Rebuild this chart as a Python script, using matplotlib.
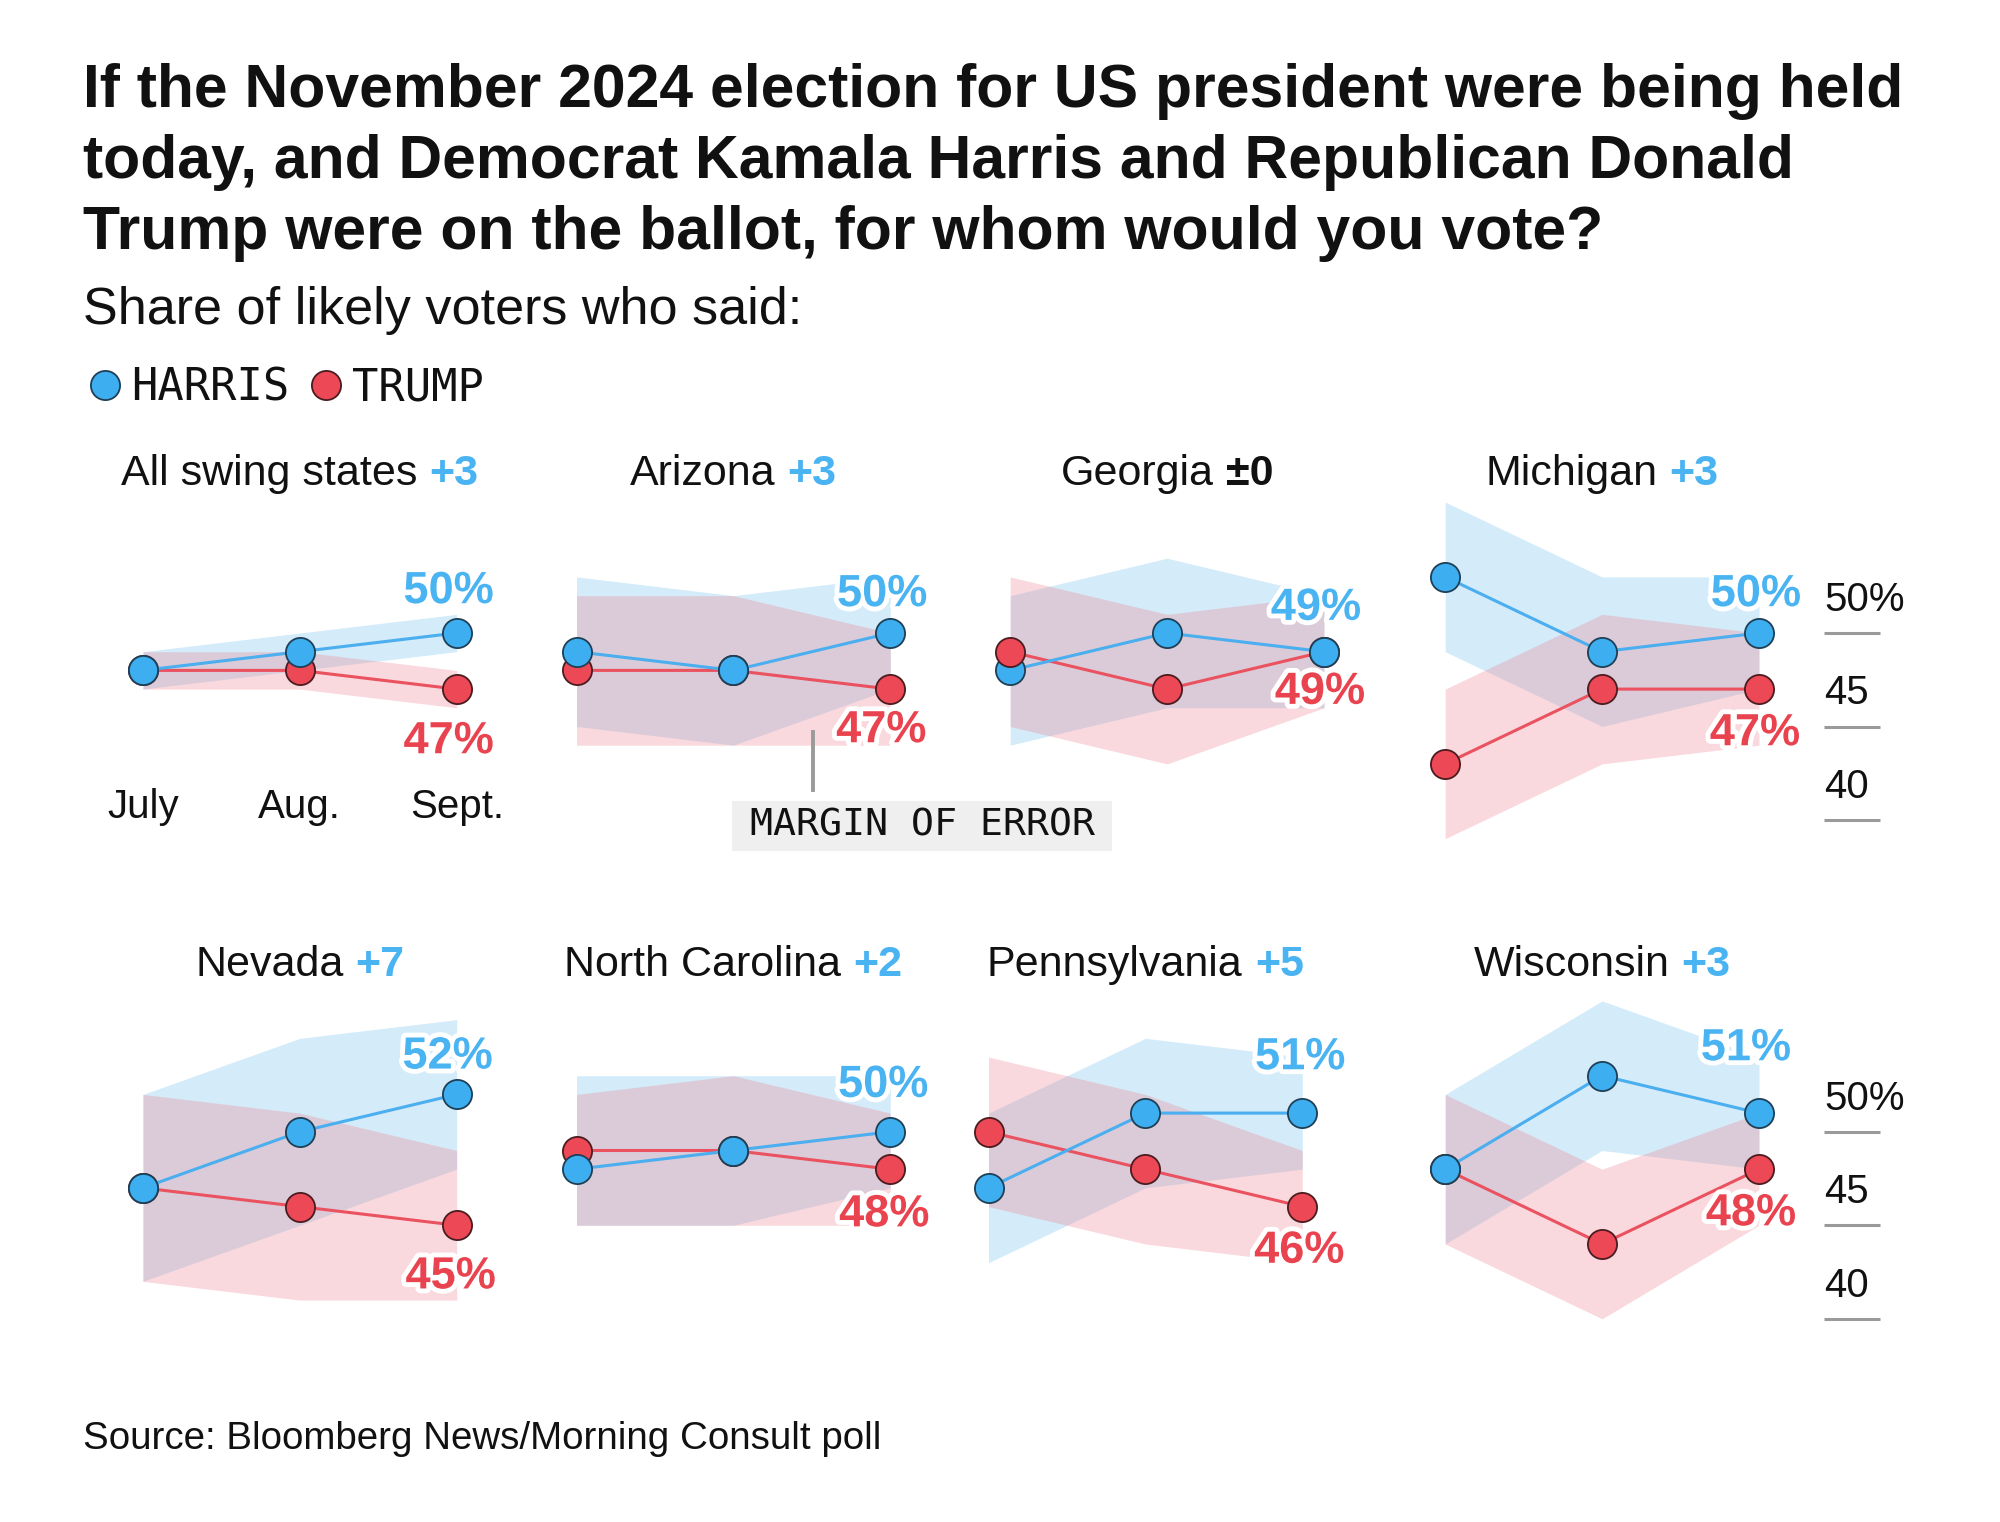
import matplotlib
matplotlib.use("Agg")
import matplotlib.pyplot as plt
from matplotlib import patheffects as pe
from matplotlib.patches import Rectangle
from matplotlib.lines import Line2D
from matplotlib.font_manager import FontProperties

# ---------------- data ----------------
months = ["July", "Aug.", "Sept."]
states = ["All swing states", "Arizona", "Georgia", "Michigan",
          "Nevada", "North Carolina", "Pennsylvania", "Wisconsin"]
leads = ["+3", "+3", "±0", "+3", "+7", "+2", "+5", "+3"]
harris = [[48, 49, 50], [49, 48, 50], [48, 50, 49], [53, 49, 50],
          [47, 50, 52], [48, 49, 50], [47, 51, 51], [48, 53, 51]]
trump = [[48, 48, 47], [48, 48, 47], [49, 47, 49], [43, 47, 47],
         [47, 46, 45], [49, 49, 48], [50, 48, 46], [48, 44, 48]]
# margin-of-error bands as drawn (low / high), per panel and month
harris_lo = [[47, 48, 49], [45, 44, 47], [44, 46, 46], [49, 45, 47],
             [42, 45, 48], [45, 45, 47], [43, 47, 48], [44, 49, 48]]
harris_hi = [[49, 50, 51], [53, 52, 53], [52, 54, 52], [57, 53, 53],
             [52, 55, 56], [53, 53, 53], [51, 55, 54], [52, 57, 54]]
trump_lo = [[47, 47, 46], [44, 44, 44], [45, 43, 46], [39, 43, 44],
            [42, 41, 41], [45, 45, 45], [46, 44, 43], [44, 40, 45]]
trump_hi = [[49, 49, 48], [52, 52, 50], [53, 51, 52], [47, 51, 50],
            [52, 51, 49], [52, 53, 51], [54, 52, 49], [52, 48, 51]]
yticks = [40, 45, 50]
ytick_labels = ["40", "45", "50%"]

# ---------------- style / layout ----------------
W, H, DPI = 2000, 1522, 100
BLUE = "#3DAEF0"
RED = "#EC4856"
BLUE_TXT = "#4AB3F1"
RED_TXT = "#E9434F"
BLUE_LINE = "#4AAEEF"
RED_LINE = "#EA5260"
BLUE_BAND = "#73C0EE"
RED_BAND = "#EE8491"
BLUE_EDGE = "#1E3F55"
RED_EDGE = "#4A1C20"
INK = "#111111"
SANS = "Liberation Sans"
MONO = "DejaVu Sans Mono"

MONTH_DX = 156.9          # px between months
PX_PER_PT = 18.7          # px per percentage point
ROW_Y50 = [633.0, 1131.8]  # pixel y of the 50% level in each row
PANEL_X0 = [142.9, 576.5, 1010.2, 1445.2, 142.9, 576.5, 988.5, 1445.2]
TITLE_Y = [469.4, 960.5]
Y_LO, Y_HI = 36, 60
# value-label offsets (px): (blue dx, blue dy, red dx, red dy), dy up-positive
LABEL_OFF = [(-8, 46, -8, -48), (-8, 43, -9, -37), (-8, 48, -4, -36),
             (-3, 43, -4, -40), (-9, 42, -6, -47), (-7, 51, -6, -41),
             (-2, 60, -3, -40), (-13, 69, -8, -40)]
# (panel, month) points where the Trump dot sits above the Harris dot
TRUMP_ON_TOP = [(2, 0)]

def fx(x):
    return x / W

def fy(y):
    return 1 - y / H

fig = plt.figure(figsize=(W / DPI, H / DPI), dpi=DPI)
fig.patch.set_facecolor("white")

# ---- title & subtitle ----
title_lines = ["If the November 2024 election for US president were being held",
               "today, and Democrat Kamala Harris and Republican Donald",
               "Trump were on the ballot, for whom would you vote?"]
for i, line in enumerate(title_lines):
    fig.text(fx(83), fy(107 + 71 * i), line, family=SANS, weight="bold",
             fontsize=43.7, color=INK, va="baseline", ha="left")
fig.text(fx(83), fy(324), "Share of likely voters who said:", family=SANS,
         fontsize=37.5, color=INK, va="baseline", ha="left")

# ---- legend ----
handles = [Line2D([], [], ls="", marker="o", ms=21, mfc=BLUE, mec=BLUE_EDGE, mew=1.3),
           Line2D([], [], ls="", marker="o", ms=21, mfc=RED, mec=RED_EDGE, mew=1.3)]
fig.legend(handles, ["HARRIS", "TRUMP"], loc="center left",
           bbox_to_anchor=(fx(87), fy(388)), ncol=2, frameon=False,
           prop=FontProperties(family=MONO, size=31.5), handlelength=0.8,
           handletextpad=0.2, columnspacing=0.45, borderpad=0,
           borderaxespad=0, labelcolor=INK)

renderer = fig.canvas.get_renderer()

def two_part_title(xc, yc, s1, s2, c2):
    fs = 31
    t1 = fig.text(0, 0, s1, family=SANS, fontsize=fs, color=INK, va="baseline")
    t2 = fig.text(0, 0, s2, family=SANS, fontsize=fs, weight="bold", color=c2,
                  va="baseline")
    w1 = t1.get_window_extent(renderer).width
    w2 = t2.get_window_extent(renderer).width
    gap = 0.28 * fs * DPI / 72
    total = w1 + gap + w2
    left = xc - total / 2
    base = yc + 0.716 * fs * DPI / 72 / 2
    t1.set_position((fx(left), fy(base)))
    t2.set_position((fx(left + w1 + gap), fy(base)))

# ---- panels ----
x = [0, 1, 2]
for i, st in enumerate(states):
    row = i // 4
    y50 = ROW_Y50[row]
    x0 = PANEL_X0[i]
    top = y50 - (Y_HI - 50) * PX_PER_PT
    bot = y50 + (50 - Y_LO) * PX_PER_PT
    ax = fig.add_axes([fx(x0), fy(bot), 2 * MONTH_DX / W, (bot - top) / H])
    ax.set_xlim(0, 2)
    ax.set_ylim(Y_LO, Y_HI)
    ax.axis("off")

    h = harris[i]
    t = trump[i]
    ax.fill_between(x, harris_lo[i], harris_hi[i],
                    color=BLUE_BAND, alpha=0.3, lw=0, zorder=1)
    ax.fill_between(x, trump_lo[i], trump_hi[i],
                    color=RED_BAND, alpha=0.3, lw=0, zorder=2)
    ax.plot(x, t, color=RED_LINE, lw=2.2, zorder=3, clip_on=False)
    ax.plot(x, h, color=BLUE_LINE, lw=2.2, zorder=5, clip_on=False)
    for k in range(3):
        red_top = (i, k) in TRUMP_ON_TOP
        ax.plot([k], [t[k]], ls="", marker="o", ms=21, mfc=RED, mec=RED_EDGE,
                mew=1.3, zorder=7 if red_top else 4, clip_on=False)
        ax.plot([k], [h[k]], ls="", marker="o", ms=21, mfc=BLUE, mec=BLUE_EDGE,
                mew=1.3, zorder=6, clip_on=False)

    bdx, bdy, rdx, rdy = LABEL_OFF[i]
    lfs = 32.5
    cap = 0.716 * lfs * DPI / 72
    stroke = [pe.withStroke(linewidth=7, foreground="white")]
    ax.annotate(f"{h[-1]}%", xy=(2, h[-1]), xytext=(bdx, bdy - cap / 2),
                textcoords="offset pixels", ha="center", va="baseline",
                family=SANS, weight="bold", fontsize=lfs, color=BLUE_TXT,
                path_effects=stroke, zorder=10, annotation_clip=False)
    ax.annotate(f"{t[-1]}%", xy=(2, t[-1]), xytext=(rdx, rdy - cap / 2),
                textcoords="offset pixels", ha="center", va="baseline",
                family=SANS, weight="bold", fontsize=lfs, color=RED_TXT,
                path_effects=stroke, zorder=10, annotation_clip=False)

    lead_color = INK if leads[i].startswith("±") else BLUE_TXT
    two_part_title(x0 + MONTH_DX, TITLE_Y[row], st, leads[i], lead_color)

    if i == 0:
        for k, mo in enumerate(months):
            ax.text(k, 50 - (818 - y50) / PX_PER_PT, mo, ha="center",
                    va="baseline", family=SANS, fontsize=29, color=INK,
                    clip_on=False)
    if i % 4 == 3:
        xa = 2 + (1824 - (x0 + 2 * MONTH_DX)) / MONTH_DX
        xb = xa + 56 / MONTH_DX
        ax.hlines(yticks, xa, xb, colors="#9a9a9a", lw=2.2, clip_on=False)
        for v, lab in zip(yticks, ytick_labels):
            ax.text(xa, v + 22 / PX_PER_PT, lab, ha="left", va="baseline",
                    family=SANS, fontsize=29, color=INK, clip_on=False)

# ---- margin of error annotation ----
fig.add_artist(Line2D([fx(813), fx(813)], [fy(732), fy(790)],
                      transform=fig.transFigure, color="#9a9a9a", lw=2.8))
fig.add_artist(Rectangle((fx(732), fy(851)), 380 / W, 50 / H,
                         transform=fig.transFigure, facecolor="#efefef",
                         edgecolor="none"))
fig.text(fx(922), fy(835), "MARGIN OF ERROR", family=MONO, fontsize=27.5,
         color=INK, ha="center", va="baseline")

# ---- source ----
fig.text(fx(83), fy(1449), "Source: Bloomberg News/Morning Consult poll",
         family=SANS, fontsize=27.7, color=INK, ha="left", va="baseline")

fig.savefig("out.png", dpi=DPI, facecolor="white")
